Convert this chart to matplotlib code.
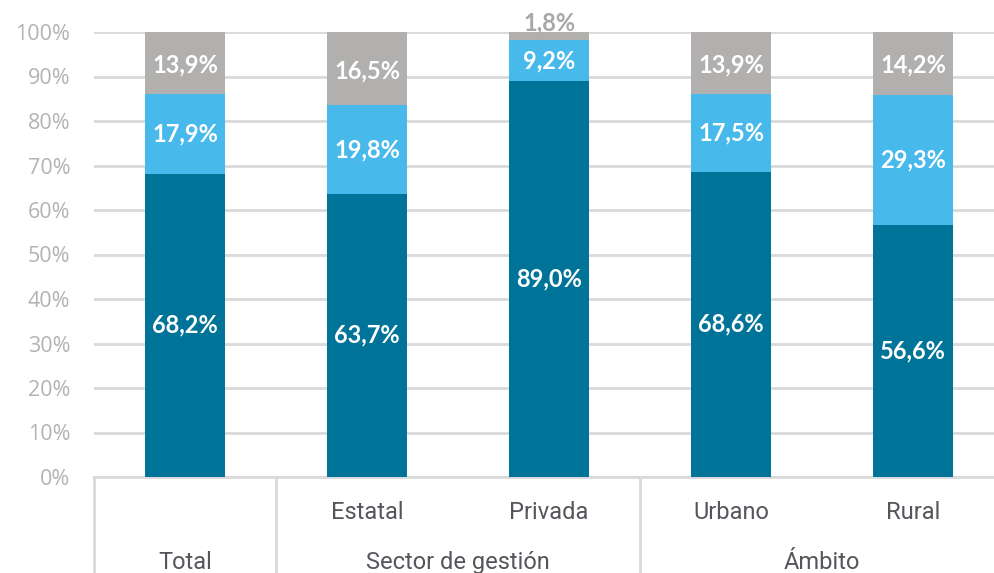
import matplotlib
matplotlib.use("Agg")
import matplotlib.pyplot as plt
from matplotlib.ticker import FuncFormatter
import matplotlib.transforms as mtransforms

categories = ["Total", "Estatal", "Privada", "Urbano", "Rural"]
groups = ["Total", "Sector de gestión", "Ámbito"]
dark = [68.2, 63.7, 89.0, 68.6, 56.6]
light = [17.9, 19.8, 9.2, 17.5, 29.3]
gray = [13.9, 16.5, 1.8, 13.9, 14.2]

C_DARK = "#007398"
C_LIGHT = "#47B9EA"
C_GRAY = "#B1B0AF"

W, H = 995, 573
fig = plt.figure(figsize=(W / 100, H / 100), dpi=100)
ax = fig.add_axes([94 / W, (H - 477) / H, 1 - 94 / W, 445 / H])

x = list(range(len(categories)))
bw = 0.44
ax.bar(x, dark, bw, color=C_DARK, zorder=3)
ax.bar(x, light, bw, bottom=dark, color=C_LIGHT, zorder=3)
b2 = [d + l for d, l in zip(dark, light)]
ax.bar(x, gray, bw, bottom=b2, color=C_GRAY, zorder=3)

def fmt(v):
    return f"{v:.1f}%".replace(".", ",")

lab_kw = dict(ha="center", va="center", fontsize=17, fontweight="bold",
              family="Lato", zorder=4)
for i in x:
    ax.text(i, dark[i] / 2, fmt(dark[i]), color="white", **lab_kw)
    ax.text(i, dark[i] + light[i] / 2, fmt(light[i]), color="white", **lab_kw)
    if gray[i] >= 5:
        ax.text(i, b2[i] + gray[i] / 2 - 0.4, fmt(gray[i]), color="white", **lab_kw)
    else:
        ax.text(i, b2[i] + gray[i] - 0.6, fmt(gray[i]), color="#A8A8A8",
                ha="center", va="bottom", fontsize=17, fontweight="bold",
                family="Lato", clip_on=False)

ax.set_ylim(0, 100)
ax.set_xlim(-0.5, 4.45)
ax.set_yticks(range(0, 101, 10))
ax.yaxis.set_major_formatter(FuncFormatter(lambda v, p: f"{int(v)}%"))
ax.tick_params(axis="y", length=0, pad=17, labelsize=15.5, labelcolor="#B3B3B3")
for t in ax.get_yticklabels():
    t.set_family("Open Sans")
ax.set_xticks([])
ax.grid(axis="y", color="#D9D9D9", linewidth=2, zorder=0)
for s in ax.spines.values():
    s.set_visible(False)

trans = mtransforms.blended_transform_factory(ax.transData, ax.transAxes)
ax.plot([-0.5, 4.45], [0, 0], transform=trans, color="#D9D9D9", lw=2, clip_on=False)
for sx in [-0.5, 0.5, 2.5]:
    ax.plot([sx, sx], [0, -0.23], transform=trans, color="#D9D9D9", lw=2, clip_on=False)

for i, c in enumerate(categories[1:], start=1):
    ax.text(i, -0.079, c, transform=trans, ha="center", va="center",
            fontsize=17, family="Roboto", color="#55565B")
group_pos = [0, 1.5, 3.5]
for g, gp in zip(groups, group_pos):
    ax.text(gp, -0.193, g, transform=trans, ha="center", va="center",
            fontsize=17, family="Roboto", color="#55565B")

fig.savefig("out.png", dpi=100)
